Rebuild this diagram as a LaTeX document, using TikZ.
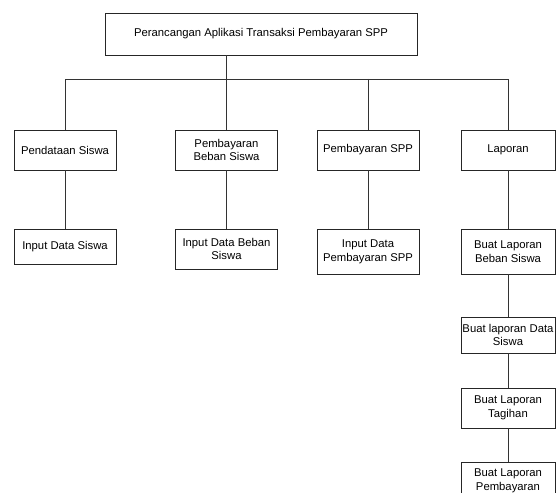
\documentclass[tikz,border=0pt]{standalone}
\usepackage{fontspec}
\setmainfont{Liberation Sans}
\usepackage{xcolor}

\begin{document}
\begin{tikzpicture}[x=1pt, y=-1pt,
  kotak/.style={draw=black!85, line width=0.8pt, fill=white, align=center,
    inner sep=1pt, minimum width=102pt,
    font=\fontsize{11.3}{13.6}\selectfont},
  garis/.style={draw=black!80, line width=0.8pt}]
  % Fix the frame of the page
  \useasboundingbox (0,0) rectangle (556,492);
  \clip (0,0) rectangle (556,492);

  % Top box
  \node[kotak, minimum width=312pt, minimum height=42pt] (utama) at (261,34)
    {Perancangan Aplikasi Transaksi Pembayaran SPP};
  \coordinate (bus) at (0,79);

  % First level
  \node[kotak, minimum height=40pt] (pendataan) at (65,150) {Pendataan Siswa};
  \node[kotak, minimum height=40pt] (beban) at (226.5,150) {Pembayaran\\Beban Siswa};
  \node[kotak, minimum height=40pt] (spp) at (368,150) {Pembayaran SPP};
  \node[kotak, minimum width=94pt, minimum height=40pt] (laporan) at (508,150) {Laporan};

  % Second level
  \node[kotak, minimum height=35pt] (inputsiswa) at (65,246.5) {Input Data Siswa};
  \node[kotak, minimum height=40pt] (inputbeban) at (226.5,249) {Input Data Beban\\Siswa};
  \node[kotak, minimum height=45pt] (inputspp) at (368,251.5) {Input Data\\Pembayaran SPP};
  \node[kotak, minimum width=94pt, minimum height=45pt] (lapbeban) at (508,251.5) {Buat Laporan\\Beban Siswa};
  \node[kotak, minimum width=94pt, minimum height=36pt] (lapsiswa) at (508,335) {Buat laporan Data\\Siswa};
  \node[kotak, minimum width=94pt, minimum height=40pt] (laptagihan) at (508,408) {Buat Laporan\\Tagihan};
  \node[kotak, minimum width=94pt, minimum height=38pt] (lapbayar) at (508,481) {Buat Laporan\\Pembayaran};

  % Connectors
  \draw[garis] (utama.south -| beban.north) -- (beban.north);
  \draw[garis] (pendataan.north) -- (pendataan.north |- bus) -- (laporan.north |- bus) -- (laporan.north);
  \draw[garis] (spp.north |- bus) -- (spp.north);
  \draw[garis] (pendataan) -- (inputsiswa);
  \draw[garis] (beban) -- (inputbeban);
  \draw[garis] (spp) -- (inputspp);
  \draw[garis] (laporan) -- (lapbeban);
  \draw[garis] (lapbeban) -- (lapsiswa);
  \draw[garis] (lapsiswa) -- (laptagihan);
  \draw[garis] (laptagihan) -- (lapbayar);
\end{tikzpicture}
\end{document}
